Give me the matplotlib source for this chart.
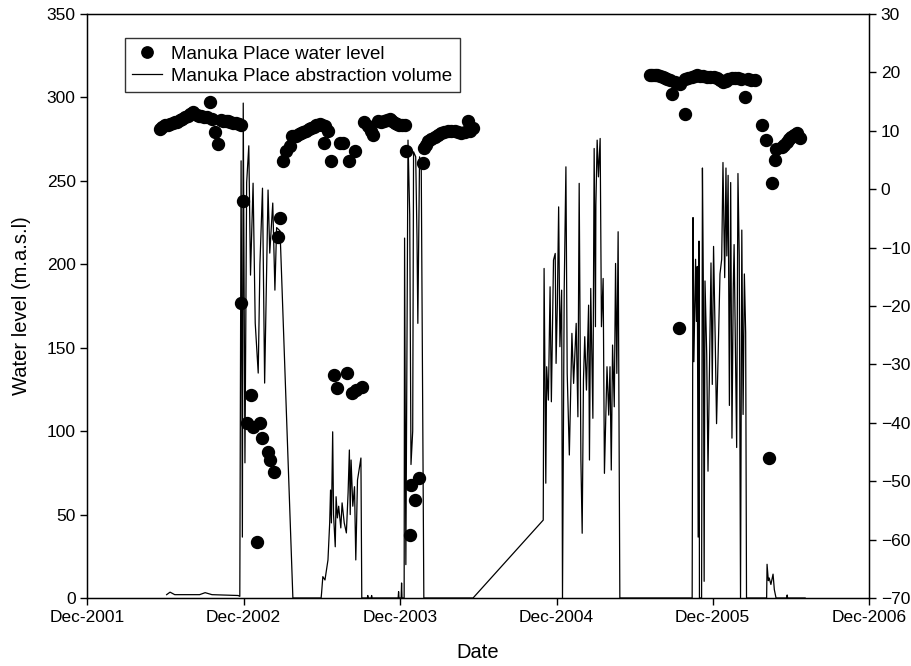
import matplotlib
matplotlib.use('Agg')
import matplotlib.pyplot as plt
import matplotlib.dates as mdates
import pandas as pd

plt.rcParams['font.family'] = ['Liberation Sans', 'DejaVu Sans']

# Manuka Place water level (m.a.s.l)
level_dates = [
    '2002-05-19', '2002-05-25', '2002-05-31', '2002-06-07', '2002-06-12', '2002-06-18',
    '2002-06-23', '2002-06-29', '2002-07-05', '2002-07-11', '2002-07-17', '2002-07-23',
    '2002-07-29', '2002-08-05', '2002-08-13', '2002-08-19', '2002-08-24', '2002-08-31',
    '2002-09-06', '2002-09-13', '2002-09-17', '2002-09-25', '2002-10-02', '2002-10-10',
    '2002-10-14', '2002-10-20', '2002-10-26', '2002-10-31', '2002-11-06', '2002-11-12',
    '2002-11-19', '2002-11-24',
    '2002-11-25', '2002-11-30', '2002-12-08', '2002-12-17', '2002-12-23', '2002-12-31',
    '2003-01-08', '2003-01-12', '2003-01-26', '2003-01-31', '2003-02-10', '2003-02-19',
    '2003-02-23',
    '2003-03-02', '2003-03-10', '2003-03-19', '2003-03-24', '2003-03-29', '2003-04-03',
    '2003-04-09', '2003-04-14', '2003-04-19', '2003-04-25', '2003-05-02', '2003-05-08',
    '2003-05-14', '2003-05-19', '2003-05-24', '2003-05-29', '2003-06-03', '2003-06-08',
    '2003-06-06', '2003-06-16', '2003-06-23', '2003-07-13', '2003-07-21', '2003-08-05',
    '2003-08-17', '2003-09-08', '2003-09-17', '2003-09-25', '2003-09-29', '2003-10-11',
    '2003-10-18', '2003-10-26', '2003-11-01', '2003-11-07', '2003-11-12', '2003-11-19',
    '2003-11-24', '2003-11-30', '2003-12-06', '2003-12-12', '2003-12-15',
    '2003-06-29', '2003-07-06', '2003-07-30', '2003-08-10', '2003-08-21', '2003-09-03',
    '2003-12-24', '2003-12-28', '2004-01-05', '2004-01-14',
    '2004-01-23', '2004-01-27', '2004-01-31', '2004-02-04', '2004-02-12', '2004-02-20',
    '2004-02-28', '2004-03-06', '2004-03-13', '2004-03-22', '2004-03-30', '2004-04-07',
    '2004-04-15', '2004-04-22', '2004-05-01', '2004-05-09', '2004-05-12', '2004-05-19',
    '2005-07-08', '2005-07-13', '2005-07-19', '2005-07-24', '2005-07-31', '2005-08-06',
    '2005-08-12', '2005-08-17', '2005-08-23', '2005-08-27', '2005-09-04', '2005-09-10',
    '2005-09-14', '2005-09-16', '2005-09-27', '2005-09-28', '2005-10-04', '2005-10-13',
    '2005-10-20', '2005-10-25', '2005-11-01', '2005-11-09', '2005-11-17', '2005-11-24',
    '2005-12-03', '2005-12-11', '2005-12-18', '2005-12-26', '2006-01-01', '2006-01-06',
    '2006-01-14', '2006-01-21', '2006-01-29', '2006-02-06', '2006-02-14', '2006-02-22',
    '2006-03-01', '2006-03-10',
    '2006-03-26', '2006-04-05', '2006-04-12', '2006-04-19', '2006-04-25', '2006-04-29',
    '2006-05-12', '2006-05-17', '2006-05-23', '2006-05-28', '2006-06-03', '2006-06-09',
    '2006-06-15', '2006-06-22',
]
level_values = [
    281.2, 282.5, 283.3, 283.5, 284.2, 284.8,
    285.2, 285.5, 286.2, 287.0, 288.2, 289.0,
    290.2, 291.2, 289.2, 289.0, 288.8, 288.5,
    288.2, 297.2, 287.2, 279.2, 272.2, 286.2,
    286.0, 285.8, 285.6, 285.2, 284.8, 284.5,
    284.2, 283.5,
    176.7, 238.0, 104.8, 121.6, 102.6, 33.5,
    104.8, 95.9, 87.5, 82.7, 75.5, 216.3,
    227.7,
    261.6, 267.6, 270.6, 276.6, 276.8, 277.0,
    278.0, 278.6, 279.2, 280.0, 280.8, 281.6,
    282.4, 283.2, 283.6, 284.0, 283.4, 282.6,
    272.6, 280.0, 262.0, 272.6, 272.6, 261.6,
    267.6, 285.2, 282.6, 279.6, 277.6, 285.6,
    285.4, 285.6, 286.4, 287.2, 285.8, 284.6,
    284.0, 283.6, 283.6, 283.6, 267.6,
    133.6, 125.8, 134.8, 122.8, 124.5, 126.4,
    37.7, 67.7, 58.7, 71.9,
    260.6, 269.6, 271.5, 273.6, 275.0, 276.0,
    277.5, 278.6, 279.2, 279.6, 279.6, 279.6,
    279.4, 278.6, 279.0, 285.6, 279.6, 281.6,
    313.2, 313.4, 313.6, 313.2, 312.8, 312.0,
    311.6, 311.0, 310.2, 302.2, 309.2, 308.8,
    162.0, 308.2, 290.2, 311.2, 311.8, 312.2,
    312.8, 313.2, 313.0, 312.8, 312.5, 312.2,
    312.0, 311.6, 310.5, 309.2, 310.0, 311.2,
    311.5, 311.6, 311.4, 311.2, 300.2, 310.8,
    310.5, 310.2,
    283.6, 274.6, 83.7, 249.0, 262.2, 269.2,
    270.2, 271.5, 273.2, 274.8, 276.2, 277.5,
    278.8, 275.6,
]

# Manuka Place abstraction volume
volume_dates = [
    '2002-06-04', '2002-06-12', '2002-06-23', '2002-08-20', '2002-09-02', '2002-09-18',
    '2002-11-18', '2002-11-22',
    '2002-11-25', '2002-11-28', '2002-11-30', '2002-12-04', '2002-12-08', '2002-12-13',
    '2002-12-17', '2002-12-23', '2002-12-28', '2003-01-04', '2003-01-08', '2003-01-14',
    '2003-01-19', '2003-01-27', '2003-01-31', '2003-02-07', '2003-02-12', '2003-02-16',
    '2003-02-24', '2003-03-26',
    '2003-05-31', '2003-06-01', '2003-06-04', '2003-06-09', '2003-06-16', '2003-06-20',
    '2003-06-22', '2003-06-24', '2003-06-27', '2003-06-29', '2003-07-03', '2003-07-05',
    '2003-07-08', '2003-07-11', '2003-07-16', '2003-07-19', '2003-07-24', '2003-07-29',
    '2003-08-02', '2003-08-05', '2003-08-07', '2003-08-09', '2003-08-13', '2003-08-17',
    '2003-08-20', '2003-08-24', '2003-09-01', '2003-09-03',
    '2003-09-16', '2003-09-17', '2003-09-18', '2003-09-25', '2003-09-26', '2003-09-27',
    '2003-11-27', '2003-11-28', '2003-11-29', '2003-12-04', '2003-12-05', '2003-12-06',
    '2003-12-11', '2003-12-12', '2003-12-15', '2003-12-20', '2003-12-24', '2003-12-27',
    '2003-12-31', '2004-01-02', '2004-01-07', '2004-01-10', '2004-01-12', '2004-01-16',
    '2004-01-20', '2004-01-26',
    '2004-05-20', '2004-10-31',
    '2004-11-02', '2004-11-06', '2004-11-08', '2004-11-12', '2004-11-16', '2004-11-19',
    '2004-11-24', '2004-11-28', '2004-11-30', '2004-12-03', '2004-12-06', '2004-12-09',
    '2004-12-13', '2004-12-15', '2004-12-19', '2004-12-23', '2004-12-26', '2004-12-31',
    '2005-01-06', '2005-01-10', '2005-01-16', '2005-01-20', '2005-01-23', '2005-01-27',
    '2005-01-30', '2005-02-02', '2005-02-05', '2005-02-09', '2005-02-14', '2005-02-16',
    '2005-02-19', '2005-02-24', '2005-02-27', '2005-03-02', '2005-03-03', '2005-03-06',
    '2005-03-09', '2005-03-13', '2005-03-16', '2005-03-20', '2005-03-23', '2005-03-29',
    '2005-04-02', '2005-04-05', '2005-04-08', '2005-04-11', '2005-04-15', '2005-04-18',
    '2005-04-21', '2005-04-24', '2005-04-28',
    '2005-10-14', '2005-10-16', '2005-10-18', '2005-10-22', '2005-10-24', '2005-10-26',
    '2005-10-28', '2005-10-30', '2005-10-31', '2005-11-05', '2005-11-07', '2005-11-09',
    '2005-11-11', '2005-11-13', '2005-11-17', '2005-11-20', '2005-11-23', '2005-11-27',
    '2005-11-30', '2005-12-03', '2005-12-07', '2005-12-10', '2005-12-14', '2005-12-18',
    '2005-12-22', '2005-12-25', '2005-12-29', '2006-01-01', '2006-01-03', '2006-01-06',
    '2006-01-09', '2006-01-12', '2006-01-15', '2006-01-18', '2006-01-20', '2006-01-23',
    '2006-01-26', '2006-01-29', '2006-02-01', '2006-02-04', '2006-02-07', '2006-02-10',
    '2006-02-13', '2006-02-16', '2006-02-18',
    '2006-04-06', '2006-04-07', '2006-04-10', '2006-04-12', '2006-04-16', '2006-04-21',
    '2006-04-24', '2006-04-28', '2006-05-23', '2006-05-24', '2006-05-25', '2006-07-05',
]
volume_values = [
    2.0, 3.5, 2.0, 2.0, 3.2, 2.0,
    1.5, 1.0,
    262.0, 36.5, 296.6, 81.0, 249.0, 271.0,
    193.5, 248.6, 164.8, 134.8, 200.0, 245.6,
    128.8, 244.5, 206.7, 236.7, 184.5, 222.0,
    220.0, 0.0,
    0.0, 2.8, 12.8, 10.8, 22.8, 45.0,
    64.7, 45.0, 99.6, 50.0, 30.7, 60.7,
    48.0, 55.0, 42.0, 57.0, 45.0, 39.0,
    63.0, 88.7, 50.0, 82.7, 55.0, 66.7,
    22.8, 70.7, 83.9, 0.0,
    0.0, 1.5, 0.0, 0.0, 1.5, 0.0,
    0.0, 3.8, 0.0, 0.0, 9.0, 0.0,
    0.0, 215.7, 20.0, 274.4, 230.0, 80.0,
    100.0, 267.4, 264.4, 216.5, 164.6, 264.4,
    256.4, 0.0,
    0.0, 46.7,
    197.5, 68.8, 138.6, 118.6, 186.5, 117.6,
    202.5, 206.5, 140.6, 176.5, 234.4, 150.6,
    184.5, 0.0, 184.5, 258.4, 134.6, 85.7,
    158.6, 128.6, 164.6, 108.6, 248.5, 82.7,
    38.8, 130.6, 156.6, 124.6, 175.5, 82.7,
    185.5, 107.7, 269.4, 162.6, 235.5, 274.4,
    252.4, 275.4, 162.6, 191.5, 74.7, 138.6,
    109.6, 138.6, 76.7, 151.6, 114.6, 200.5,
    134.6, 219.5, 0.0,
    0.0, 228.0, 141.6, 203.0, 165.8, 198.7,
    36.5, 213.9, 0.0, 0.0, 257.7, 192.0,
    10.0, 190.0, 146.0, 76.0, 128.6, 200.8,
    128.0, 210.7, 152.6, 104.5, 150.5, 194.2,
    203.0, 261.0, 192.0, 257.7, 205.0, 253.3,
    115.4, 249.0, 95.8, 185.0, 211.8, 150.0,
    90.2, 254.4, 205.2, 0.0, 220.5, 110.0,
    194.2, 159.0, 0.0,
    0.0, 20.2, 10.4, 12.0, 8.1, 14.3,
    5.0, 0.0, 0.0, 1.8, 0.0, 0.0,
]

right_ticks = [-70, -60, -50, -40, -30, -20, -10, 0, 10, 20, 30]
x_ticks = ['2001-12-01', '2002-12-01', '2003-12-01', '2004-12-01', '2005-12-01', '2006-12-01']

fig = plt.figure(figsize=(9.11, 6.66), dpi=100)
ax = fig.add_axes([0.096, 0.1021, 0.8578, 0.8769])

ax.plot(pd.to_datetime(level_dates), level_values, 'o', color='black', ms=8.6,
        label='Manuka Place water level')
ax.plot(pd.to_datetime(volume_dates), volume_values, '-', color='black', lw=0.9,
        label='Manuka Place abstraction volume')

ax.set_xlim(pd.Timestamp(x_ticks[0]), pd.Timestamp(x_ticks[-1]))
ax.set_ylim(0, 350)
ax.set_xticks(pd.to_datetime(x_ticks))
ax.xaxis.set_major_formatter(mdates.DateFormatter('%b-%Y'))
ax.set_yticks(range(0, 351, 50))
ax.tick_params(direction='out', length=5, width=1, labelsize=12.5)
ax.set_xlabel('Date', fontsize=14.5, labelpad=13)
ax.set_ylabel('Water level (m.a.s.l)', fontsize=14.5, labelpad=11)
for s in ax.spines.values():
    s.set_linewidth(1)

ax2 = ax.twinx()
ax2.set_ylim(-70, 30)
ax2.set_yticks(right_ticks)
ax2.tick_params(direction='out', length=5, width=1, labelsize=12.5)

leg = ax.legend(loc='upper left', bbox_to_anchor=(0.048, 0.959), borderaxespad=0,
                fontsize=13.5, frameon=True, fancybox=False, edgecolor='black',
                handlelength=1.6, handletextpad=0.45, labelspacing=0.26, borderpad=0.4,
                markerscale=0.95)
leg.get_frame().set_linewidth(1)

fig.savefig('out.png', dpi=100)
